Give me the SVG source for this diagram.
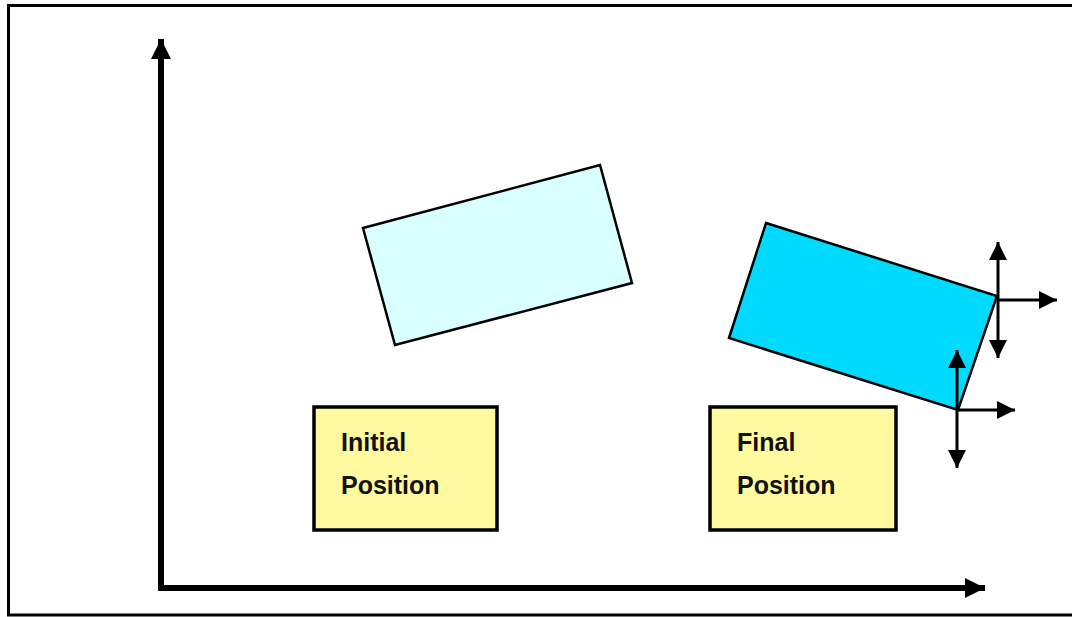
<svg xmlns="http://www.w3.org/2000/svg" width="1072" height="617" viewBox="0 0 1072 617">
  <style>
    .frame { fill: none; stroke: #000; stroke-width: 3; }
    .axis { stroke: #000; stroke-width: 6; fill: none; }
    .vec { stroke: #000; stroke-width: 3; fill: none; }
    .body { stroke: #000; stroke-width: 2.5; stroke-linejoin: miter; }
    .label-box { fill: #FFFA9F; stroke: #000; stroke-width: 3.5; }
    .label { font-family: "Liberation Sans", Arial, sans-serif; font-weight: bold; font-size: 25px; fill: #111; }
  </style>
  <defs>
    <marker id="axisHead" viewBox="0 0 10 10" refX="10" refY="5" markerUnits="userSpaceOnUse" markerWidth="20" markerHeight="20" orient="auto">
      <path d="M0,0 L10,5 L0,10 Z" fill="#000"/>
    </marker>
    <marker id="vecHead" viewBox="0 0 10 10" refX="10" refY="5" markerUnits="userSpaceOnUse" markerWidth="18" markerHeight="20" orient="auto">
      <path d="M0,0 L10,5 L0,10 Z" fill="#000"/>
    </marker>
  </defs>

  <rect width="1072" height="617" fill="#fff"/>
  <!-- outer frame, open on the right -->
  <rect class="frame" x="8.5" y="5.5" width="1090" height="609.5"/>

  <g id="body-initial">
    <polygon class="body" points="363,228 600,165 632,283 395,345" fill="#D9FFFF"/>
  </g>
  <g id="body-final">
    <polygon class="body" points="766,223 997,296 958,410 729,338" fill="#00DAFF"/>
  </g>

  <g id="label-initial">
    <rect class="label-box" x="314" y="407" width="183" height="123"/>
    <text class="label" x="341" y="451">Initial</text>
    <text class="label" x="341" y="494">Position</text>
  </g>
  <g id="label-final">
    <rect class="label-box" x="710" y="407" width="186" height="123"/>
    <text class="label" x="737" y="451">Final</text>
    <text class="label" x="737" y="494">Position</text>
  </g>

  <g id="connectors">
    <!-- coordinate axes -->
    <path class="axis" d="M161,588 L161,39" marker-end="url(#axisHead)"/>
    <path class="axis" d="M158,588 L985,588" marker-end="url(#axisHead)"/>
    <!-- direction vectors at the upper corner -->
    <path class="vec" d="M998,300 L998,242" marker-end="url(#vecHead)"/>
    <path class="vec" d="M998,300 L998,358" marker-end="url(#vecHead)"/>
    <path class="vec" d="M998,300 L1057,300" marker-end="url(#vecHead)"/>
    <!-- direction vectors at the lower corner -->
    <path class="vec" d="M957,410 L957,350" marker-end="url(#vecHead)"/>
    <path class="vec" d="M957,410 L957,468" marker-end="url(#vecHead)"/>
    <path class="vec" d="M957,410 L1015,410" marker-end="url(#vecHead)"/>
  </g>
</svg>
